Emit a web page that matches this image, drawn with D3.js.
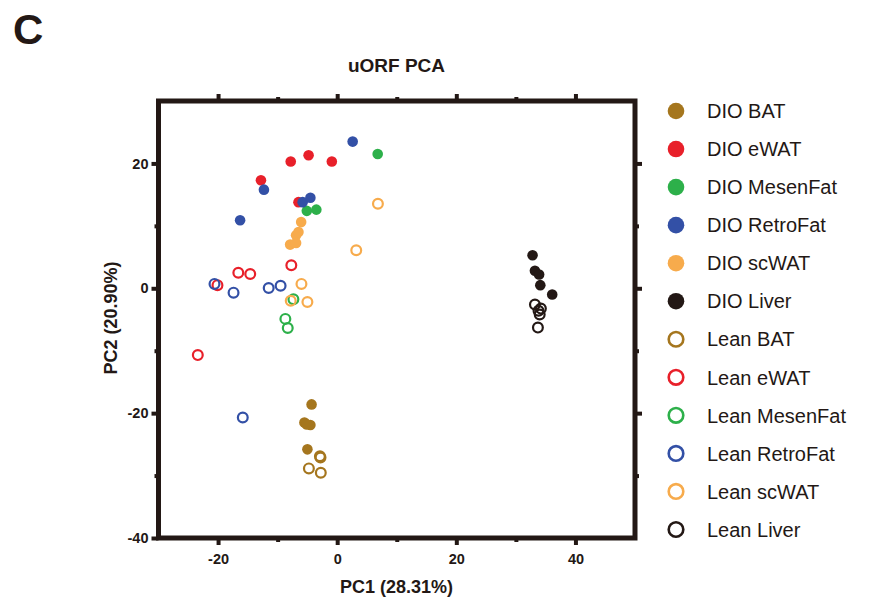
<!DOCTYPE html>
<html>
<head>
<meta charset="utf-8">
<script src="https://cdn.jsdelivr.net/npm/d3@7"></script>
<style>
  body { margin: 0; background: #fff; }
  svg { display: block; font-family: "Liberation Sans", Arial, sans-serif; }
</style>
</head>
<body>
<svg id="chart" width="871" height="601"></svg>
<script>
// ---- Data (PC1, PC2) per group ----
const groupNames = ["DIO BAT","DIO eWAT","DIO MesenFat","DIO RetroFat","DIO scWAT","DIO Liver",
                    "Lean BAT","Lean eWAT","Lean MesenFat","Lean RetroFat","Lean scWAT","Lean Liver"];
const groupColors = ["#A5761E","#E8202A","#2DB04A","#3350A6","#F7AB4C","#231815",
                     "#A5761E","#E8202A","#2DB04A","#3350A6","#F7AB4C","#231815"];
const groupFilled = [true,true,true,true,true,true,false,false,false,false,false,false];

const dioBAT      = [[-4.3,-18.6],[-5.5,-21.5],[-4.5,-21.9],[-5.1,-21.8],[-5.0,-25.8]];
const dioEWAT     = [[-7.8,20.3],[-4.8,21.3],[-0.9,20.3],[-12.8,17.3],[-6.5,13.8]];
const dioMesenFat = [[6.8,21.5],[-5.1,12.4],[-3.5,12.6]];
const dioRetroFat = [[2.6,23.5],[-12.3,15.8],[-5.8,13.8],[-4.5,14.5],[-16.3,10.9]];
const dioScWAT    = [[-6.05,10.6],[-6.9,8.5],[-6.5,9.0],[-7.9,7.0],[-6.9,7.25]];
const dioLiver    = [[32.8,5.3],[33.2,2.8],[33.9,2.2],[34.1,0.5],[36.1,-1.0]];
const leanBAT      = [[-2.9,-26.9],[-2.8,-27.1],[-4.75,-28.85],[-2.75,-29.55]];
const leanEWAT     = [[-7.7,3.7],[-16.6,2.5],[-14.6,2.3],[-20.1,0.5],[-23.4,-10.7]];
const leanMesenFat = [[-7.35,-1.76],[-8.7,-4.9],[-8.3,-6.35]];
const leanRetroFat = [[-20.6,0.7],[-17.4,-0.7],[-11.5,0.05],[-9.5,0.4],[-15.85,-20.7]];
const leanScWAT    = [[6.84,13.55],[3.2,6.1],[-6.0,0.7],[-7.8,-2.0],[-5.0,-2.2]];
const leanLiver    = [[33.2,-2.6],[34.2,-3.25],[34.0,-4.2],[33.7,-6.3],[33.8,-3.6]];

const groupData = [dioBAT,dioEWAT,dioMesenFat,dioRetroFat,dioScWAT,dioLiver,
                   leanBAT,leanEWAT,leanMesenFat,leanRetroFat,leanScWAT,leanLiver];

const xMajorTicks = [-20,0,20,40];
const xMinorTicks = [-10,10,30];
const yMajorTicks = [-40,-20,0,20];
const yMinorTicks = [-30,-10,10];

const chartTitle = "uORF PCA";
const panelLetter = "C";
const xTitle = "PC1 (28.31%)";
const yTitle = "PC2 (20.90%)";

// ---- Layout ----
(function(){
const ink = "#231815";
const svg = d3.select("#chart");
const pL = 158.5, pR = 635, pT = 101, pB = 538;
const x = d3.scaleLinear().domain([-30,50]).range([pL,pR]);
const y = d3.scaleLinear().domain([-40,30]).range([pB,pT]);
const fmt = d => String(d);

svg.append("text").attr("x",13).attr("y",44).attr("font-size",42).attr("font-weight","bold")
  .attr("fill",ink).text(panelLetter);
svg.append("text").attr("x",396.5).attr("y",72).attr("text-anchor","middle")
  .attr("font-size",19).attr("font-weight","bold").attr("fill",ink).text(chartTitle);

function styleAxis(g){
  g.select(".domain").remove();
  g.selectAll(".tick line").attr("stroke",ink).attr("stroke-width",4);
  g.selectAll(".tick text").attr("fill",ink).attr("font-size",14.5).attr("font-weight","bold")
   .attr("font-family","'Liberation Sans', Arial, sans-serif");
}
svg.append("g").attr("transform",`translate(0,${pB})`)
  .call(d3.axisBottom(x).tickValues(xMajorTicks).tickSize(7).tickPadding(9).tickFormat(fmt))
  .call(styleAxis);
svg.append("g").attr("transform",`translate(0,${pB})`)
  .call(d3.axisBottom(x).tickValues(xMinorTicks).tickSize(4).tickFormat(""))
  .call(styleAxis);
svg.append("g").attr("transform",`translate(0,${pT})`)
  .call(d3.axisTop(x).tickValues(xMajorTicks).tickSize(7).tickFormat(""))
  .call(styleAxis);
svg.append("g").attr("transform",`translate(0,${pT})`)
  .call(d3.axisTop(x).tickValues(xMinorTicks).tickSize(4).tickFormat(""))
  .call(styleAxis);
svg.append("g").attr("transform",`translate(${pL},0)`)
  .call(d3.axisLeft(y).tickValues(yMajorTicks).tickSize(7).tickPadding(3).tickFormat(fmt))
  .call(styleAxis);
svg.append("g").attr("transform",`translate(${pL},0)`)
  .call(d3.axisLeft(y).tickValues(yMinorTicks).tickSize(4).tickFormat(""))
  .call(styleAxis);
svg.append("g").attr("transform",`translate(${pR},0)`)
  .call(d3.axisRight(y).tickValues(yMajorTicks.filter(v=>v>-40)).tickSize(7).tickFormat(""))
  .call(styleAxis);
svg.append("g").attr("transform",`translate(${pR},0)`)
  .call(d3.axisRight(y).tickValues(yMinorTicks).tickSize(4).tickFormat(""))
  .call(styleAxis);

svg.append("rect").attr("x",pL).attr("y",pT).attr("width",pR-pL).attr("height",pB-pT)
  .attr("fill","none").attr("stroke",ink).attr("stroke-width",5);

groupData.forEach((pts,i)=>{
  svg.append("g").selectAll("circle").data(pts).join("circle")
    .attr("cx",d=>x(d[0])).attr("cy",d=>y(d[1]))
    .attr("r",groupFilled[i]?5.3:4.9)
    .attr("fill",groupFilled[i]?groupColors[i]:"none")
    .attr("stroke",groupFilled[i]?"none":groupColors[i])
    .attr("stroke-width",2.2);
});

svg.append("text").attr("x",396.5).attr("y",593).attr("text-anchor","middle")
  .attr("font-size",18).attr("font-weight","bold").attr("fill",ink).text(xTitle);
svg.append("text").attr("transform","translate(117,318) rotate(-90)").attr("text-anchor","middle")
  .attr("font-size",18).attr("font-weight","bold").attr("fill",ink).text(yTitle);

const leg = svg.append("g");
const legY = d3.scalePoint().domain(groupNames).range([111,529.5]);
groupNames.forEach((name,i)=>{
  const gy = legY(name);
  leg.append("circle").attr("cx",676).attr("cy",gy)
    .attr("r",groupFilled[i]?8.3:7.3)
    .attr("fill",groupFilled[i]?groupColors[i]:"none")
    .attr("stroke",groupFilled[i]?"none":groupColors[i])
    .attr("stroke-width",2.6);
  leg.append("text").attr("x",707).attr("y",gy).attr("dy","0.36em")
    .attr("font-size",20).attr("fill",ink).text(name);
});
})();
</script>
</body>
</html>
